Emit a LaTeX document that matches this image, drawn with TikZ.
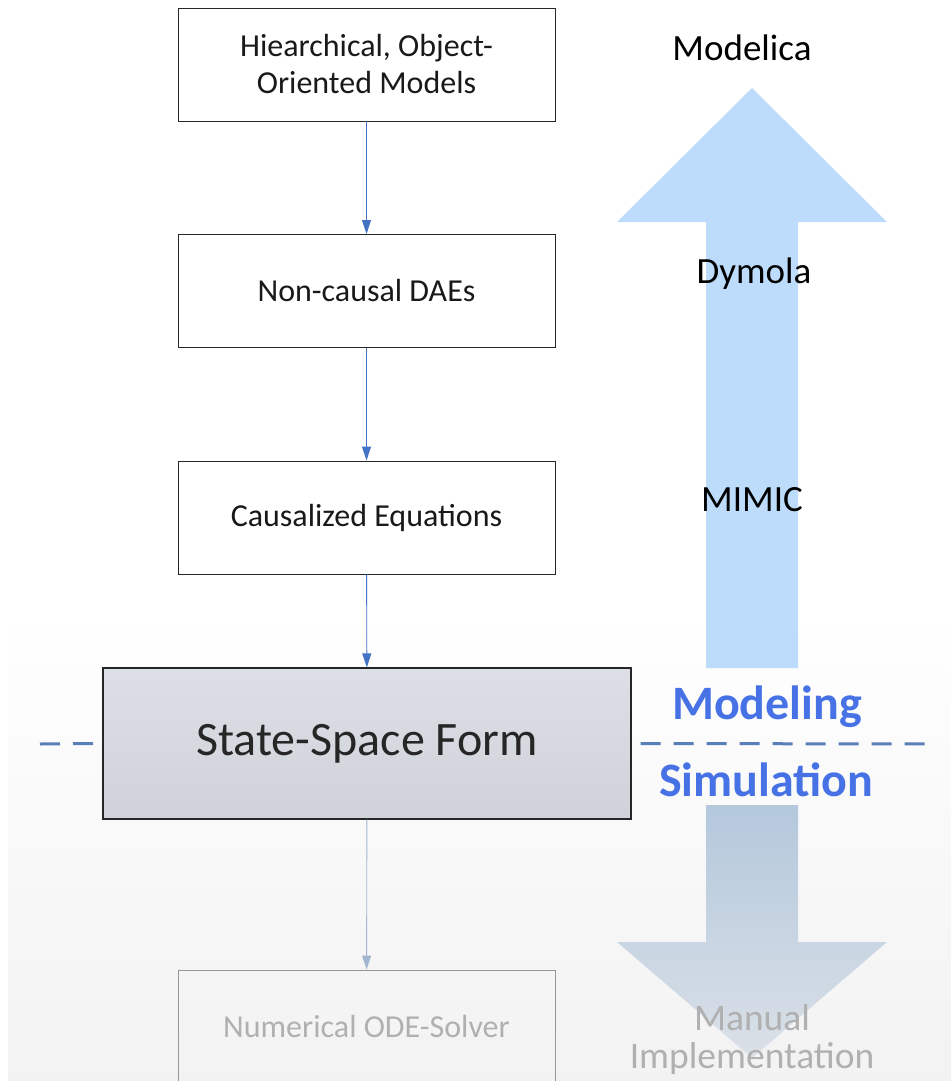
\documentclass[tikz,border=0pt]{standalone}
\usepackage{fontspec}
\setmainfont{Carlito}
\usetikzlibrary{arrows.meta}
\definecolor{connc}{HTML}{4472C4}
\definecolor{connl}{HTML}{A3B6D1}
\definecolor{upc}{HTML}{BDDCFB}
\definecolor{dashc}{HTML}{5A7FB8}
\definecolor{modc}{HTML}{4672E6}
\definecolor{fadec}{HTML}{B0B0B0}
\tikzset{
  box/.style={draw=black!85, line width=0.9pt, fill=white, minimum width=377pt, minimum height=113pt, inner sep=0pt, align=center, font=\fontsize{32}{37}\selectfont, text=black!90},
  fadebox/.style={box, draw=fadec!85!black, fill=none, text=fadec},
  conn/.style={draw=connc, line width=0.9pt, -{Triangle[length=14pt,width=9pt]}},
  connfade/.style={conn, draw=connl},
  lbl/.style={font=\fontsize{37}{44}\selectfont, text=black, inner sep=0pt},
  blbl/.style={font=\fontsize{48}{56}\selectfont\bfseries, text=modc, inner sep=0pt},
  flbl/.style={font=\fontsize{37.5}{44}\selectfont, text=fadec, inner sep=0pt},
  divider/.style={draw=dashc, line width=3pt, dash pattern=on 20pt off 13pt}
}
\begin{document}
\begin{tikzpicture}[x=1pt,y=-1pt]
\useasboundingbox (0,0) rectangle (951,1081);
\clip (0,0) rectangle (951,1081);
% background
\fill[white] (0,0) rectangle (951,1081);
\shade[top color=white, middle color=black!14, bottom color=black!5] (8,610) rectangle (951,1081);
% up arrow
\fill[upc] (706,668) -- (706,222) -- (617,222) -- (752,88) -- (887,222) -- (798,222) -- (798,668) -- cycle;
% down arrow
\shade[top color={rgb,255:red,180;green,200;blue,220}, bottom color={rgb,255:red,218;green,224;blue,231}]
  (706,805) -- (706,942) -- (617,942) -- (752,1058) -- (887,942) -- (798,942) -- (798,805) -- cycle;
% boxes
\node[box] (b1) at (366.5,64.5) {Hiearchical, Object-\\Oriented Models};
\node[box] (b2) at (366.5,291) {Non-causal DAEs};
\node[box] (b3) at (366.5,517.5) {Causalized Equations};
\node[box, minimum width=528pt, minimum height=151pt, top color={rgb,255:red,220;green,223;blue,229}, bottom color={rgb,255:red,207;green,210;blue,216}, draw=black!85, line width=1.3pt, font=\fontsize{48}{56}\selectfont, text=black!85] (b4) at (367,743.5) {State-Space Form};
\node[fadebox] (b5) at (366.5,1026.5) {Numerical ODE-Solver};
% connectors
\draw[conn] (b1) -- (b2);
\draw[conn] (b2) -- (b3);
\draw[conn] (b3) -- (b4);
\draw[connfade] (b4) -- (b5);
% divider
\coordinate (dl) at (40,744);
\coordinate (dr) at (936,744);
\draw[divider] (dl) -- (b4.west);
\draw[divider] ([xshift=9pt]b4.east) -- (dr);
% labels
\node[lbl] (modelica) at (742,48) {Modelica};
\node[lbl] (dymola) at (754,274) {Dymola};
\node[lbl] (mimic) at (752,500) {MIMIC};
\node[blbl] (modeling) at (767,707) {Modeling};
\node[blbl] (simulation) at (766,780) {Simulation};
\node[flbl] (manual) at (752,1018) {Manual};
\node[flbl] (impl) at (752,1058) {Implementation};
\end{tikzpicture}
\end{document}
